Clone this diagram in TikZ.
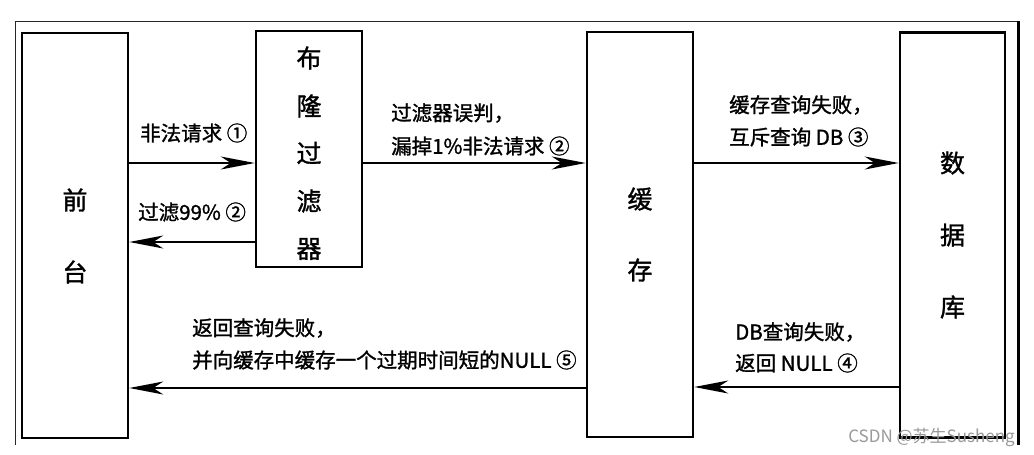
\documentclass[tikz,border=0pt]{standalone}
\usepackage{fontspec}
\setmainfont{Noto Sans CJK SC}
\newfontfamily\heavyfont{Noto Sans CJK SC}[FakeBold=1.3]
\usetikzlibrary{arrows.meta}
\begin{document}
\begin{tikzpicture}[x=1pt,y=-1pt,
  box/.style={draw=black, line width=2.5pt, minimum width=#1, inner sep=0pt},
  boxchar/.style={font=\heavyfont\fontsize{25}{25}\selectfont, inner sep=0pt},
  lbl/.style={font=\heavyfont\fontsize{20.5}{20.5}\selectfont, anchor=west, inner sep=0pt},
  arr/.style={line width=1.6pt, -{Stealth[length=34pt, width=13pt, inset=10pt]}},
  frame/.style={draw=black!85, line width=1pt}]
\useasboundingbox (0,0) rectangle (1034,455);
\fill[white] (0,0) rectangle (1034,455);
% outer frame
\draw[frame] (15,445) -- (15,21) -- (1018,21);
\draw[black, line width=3pt] (1018,21) -- (1018,445);
% boxes
\node[box=106, minimum height=405] (qt) at (75,235.5) {};
\node[box=106, minimum height=236] (bf) at (309,149) {};
\node[box=106, minimum height=405] (hc) at (640,234.5) {};
\node[box=105, minimum height=405] (db) at (952.5,235) {};
% box texts
\node[boxchar] (qt1) at (qt.center |- 0,200) {前};
\node[boxchar] (qt2) at (qt.center |- 0,272) {台};
\node[boxchar] (bf1) at (bf.center |- 0,58) {布};
\node[boxchar] (bf2) at (bf.center |- 0,106) {隆};
\node[boxchar] (bf3) at (bf.center |- 0,153) {过};
\node[boxchar] (bf4) at (bf.center |- 0,201) {滤};
\node[boxchar] (bf5) at (bf.center |- 0,249) {器};
\node[boxchar] (hc1) at (hc.center |- 0,199) {缓};
\node[boxchar] (hc2) at (hc.center |- 0,270) {存};
\node[boxchar] (db1) at (db.center |- 0,163) {数};
\node[boxchar] (db2) at (db.center |- 0,235) {据};
\node[boxchar] (db3) at (db.center |- 0,307) {库};
% connectors
\draw[arr] (qt.east |- 0,163) -- (bf.west |- 0,163);
\draw[arr] (bf.west |- 0,242) -- (qt.east |- 0,242);
\draw[arr] (bf.east |- 0,163) -- (hc.west |- 0,163);
\draw[arr] (hc.east |- 0,163) -- (db.west |- 0,163);
\draw[arr] (db.west |- 0,387) -- (hc.east |- 0,387);
\draw[arr] (hc.west |- 0,388) -- (qt.east |- 0,388);
% labels
\node[lbl] (l1) at (140,133) {非法请求 ①};
\node[lbl] (l2) at (138,212) {过滤99\% ②};
\node[lbl] (l3a) at (391,113) {过滤器误判，};
\node[lbl] (l3b) at (391,146) {漏掉1\%非法请求 ②};
\node[lbl] (l4a) at (729,105) {缓存查询失败，};
\node[lbl] (l4b) at (729,137) {互斥查询 DB ③};
\node[lbl] (l5a) at (735,332) {DB查询失败，};
\node[lbl] (l5b) at (735,363) {返回 NULL ④};
\node[lbl] (l6a) at (192,328) {返回查询失败，};
\node[lbl] (l6b) at (192,360) {并向缓存中缓存一个过期时间短的NULL ⑤};
% watermark
\node[font=\fontsize{17}{17}\selectfont, text=black!40, anchor=east, inner sep=0pt] (wm) at (1015,437) {CSDN @苏生Susheng};
\end{tikzpicture}
\end{document}
